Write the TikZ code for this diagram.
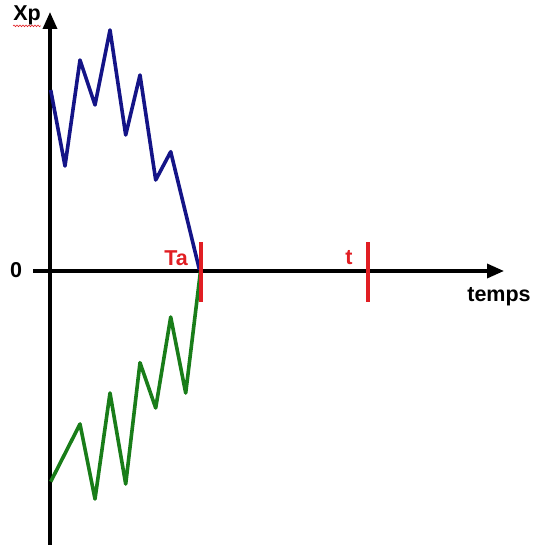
\documentclass[tikz,border=0pt]{standalone}
\usepackage{fontspec}
\setmainfont{Liberation Sans}
\usetikzlibrary{arrows.meta,decorations.pathmorphing}
\definecolor{pathblue}{RGB}{20,20,135}
\definecolor{pathgreen}{RGB}{25,125,25}
\definecolor{markred}{RGB}{225,30,35}
\tikzset{
  axisline/.style={line width=3.4pt,-{Triangle[length=17pt,width=14pt]}},
  bluepath/.style={pathblue,line width=3.6pt,line join=round},
  greenpath/.style={pathgreen,line width=3.6pt,line join=round},
  tickmark/.style={markred,line width=3.4pt},
  lbl/.style={font=\bfseries\fontsize{21.5}{24}\selectfont,inner sep=0pt},
  redlbl/.style={lbl,text=markred}
}
\begin{document}
\begin{tikzpicture}[x=1pt,y=-1pt]
\useasboundingbox (0,0) rectangle (535,545);
% axes
\coordinate (yb) at (50,545);
\coordinate (yt) at (50,12);
\coordinate (xl) at (33,271);
\coordinate (xr) at (504,271);
\draw[axisline] (yb) -- (yt);
\draw[axisline] (xl) -- (xr);
% blue path
\coordinate (b0) at (50.7,90);
\coordinate (b1) at (65,166);
\coordinate (b2) at (80,60);
\coordinate (b3) at (95,105);
\coordinate (b4) at (110,30);
\coordinate (b5) at (125.7,135);
\coordinate (b6) at (140,75);
\coordinate (b7) at (155.7,180);
\coordinate (b8) at (170.7,151.7);
\coordinate (b9) at (199.5,270);
\draw[bluepath] (b0)--(b1)--(b2)--(b3)--(b4)--(b5)--(b6)--(b7)--(b8)--(b9);
% green path
\coordinate (g0) at (50.7,481.7);
\coordinate (g1) at (80,424);
\coordinate (g2) at (95,499);
\coordinate (g3) at (110,393);
\coordinate (g4) at (125.7,484);
\coordinate (g5) at (140,362.7);
\coordinate (g6) at (155.7,408);
\coordinate (g7) at (170.7,317);
\coordinate (g8) at (185.7,393);
\coordinate (g9) at (200.5,271);
\draw[greenpath] (g0)--(g1)--(g2)--(g3)--(g4)--(g5)--(g6)--(g7)--(g8)--(g9);
% red ticks
\coordinate (ta1) at (201,242);
\coordinate (ta2) at (201,302);
\coordinate (t1) at (368,242);
\coordinate (t2) at (368,302);
\draw[tickmark] (ta1) -- (ta2);
\draw[tickmark] (t1) -- (t2);
% labels
\node[lbl] (xp) at (27,15) {Xp};
\draw[markred,line width=0.6pt,decorate,decoration={snake,amplitude=0.8pt,segment length=3pt}]
  ([yshift=-1pt]xp.south west) -- ([yshift=-1pt]xp.south east);
\node[lbl] (zero) at (16,270) {0};
\node[redlbl] (ta) at (176,258) {Ta};
\node[redlbl] (tl) at (349,258) {t};
\node[lbl] (temps) at (499,297) {temps};
\end{tikzpicture}
\end{document}
